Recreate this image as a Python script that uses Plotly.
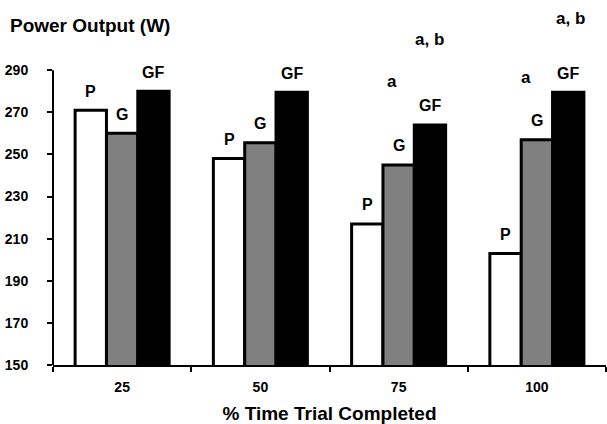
import plotly.graph_objects as go

categories = ["25", "50", "75", "100"]
series_names = ["P", "G", "GF"]
P = [271, 248, 217, 203]
G = [260, 255.5, 245, 257]
GF = [280, 279.5, 264, 279.5]
y_ticks = [150, 170, 190, 210, 230, 250, 270, 290]

sig_text = ["a", "a, b", "a", "a, b"]
sig_cat = [2, 2, 3, 3]
sig_y = [284.5, 304.5, 286.5, 314.5]

colors = ["white", "#808080", "black"]
FONT = "Arial, Liberation Sans, sans-serif"

fig = go.Figure()
values = [P, G, GF]
for name, vals, col in zip(series_names, values, colors):
    fig.add_trace(go.Bar(
        x=categories, y=vals, name=name,
        marker=dict(color=col, line=dict(color="black", width=3)),
    ))

bargap = 0.32
bw = (1 - bargap) / 3
annotations = []
for k, (name, vals) in enumerate(zip(series_names, values)):
    for i, v in enumerate(vals):
        annotations.append(dict(
            x=i + (k - 1) * bw, y=v, xref="x", yref="y", text=name,
            showarrow=False, yanchor="middle", yshift=19,
            font=dict(family=FONT, size=16, color="black", weight="bold"),
        ))

sig_off = [-0.047, bw, -0.077, bw + 0.02]
for t, c, yv, off in zip(sig_text, sig_cat, sig_y, sig_off):
    annotations.append(dict(
        x=c + off, y=yv, xref="x", yref="y", text=t, showarrow=False,
        yanchor="middle",
        font=dict(family=FONT, size=17, color="black", weight="bold"),
    ))

fig.update_layout(
    width=607, height=424,
    margin=dict(l=53, r=1, t=7, b=59),
    paper_bgcolor="white", plot_bgcolor="white",
    barmode="group", bargap=bargap, bargroupgap=0,
    showlegend=False,
    title=dict(text="Power Output (W)", x=10 / 607, xanchor="left",
               y=1 - 25 / 424, yanchor="middle", pad=dict(l=0, r=0, t=0, b=0),
               font=dict(family=FONT, size=19, color="black", weight="bold")),
    xaxis=dict(
        type="category", range=[-0.5, 3.5],
        showline=True, linecolor="black", linewidth=2,
        ticks="outside", tickson="boundaries", ticklen=5, tickwidth=2, tickcolor="black",
        tickfont=dict(family=FONT, size=14, color="black", weight="bold"),
        ticklabelstandoff=8,
        title=dict(text="% Time Trial Completed", standoff=13,
                   font=dict(family=FONT, size=19, color="black", weight="bold")),
        showgrid=False, zeroline=False, automargin=False,
    ),
    yaxis=dict(
        range=[150, 320], tickvals=y_ticks,
        showline=False,
        ticks="outside", ticklen=5, tickwidth=2, tickcolor="black",
        tickfont=dict(family=FONT, size=14, color="black", weight="bold"),
        ticklabelstandoff=16,
        showgrid=False, zeroline=False, automargin=False,
    ),
    shapes=[dict(type="line", xref="paper", yref="y", x0=0, x1=0,
                 y0=y_ticks[0], y1=y_ticks[-1],
                 line=dict(color="black", width=2))],
    annotations=annotations,
)
fig.write_html("out.html", config={"displayModeBar": False},
               post_script="document.body.style.margin='0';")
